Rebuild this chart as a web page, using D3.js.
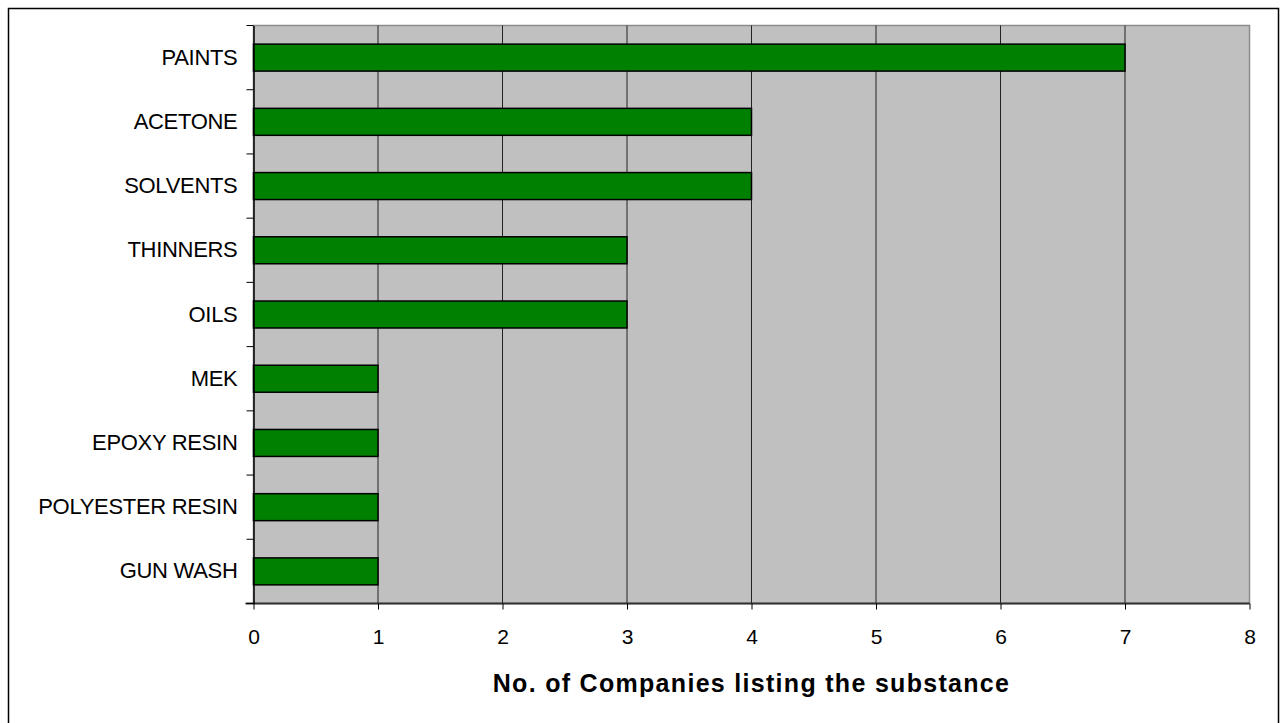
<!DOCTYPE html>
<html>
<head>
<meta charset="utf-8">
<script src="https://cdn.jsdelivr.net/npm/d3@7"></script>
<style>
  html, body { margin: 0; padding: 0; background: #fff; }
  svg { display: block; }
  text { font-family: "Liberation Sans", Arial, sans-serif; fill: #000; }
</style>
</head>
<body>
<svg id="chart" width="1283" height="723"></svg>
<script>
const categories = ["PAINTS", "ACETONE", "SOLVENTS", "THINNERS", "OILS", "MEK", "EPOXY RESIN", "POLYESTER RESIN", "GUN WASH"];
const values = [7, 4, 4, 3, 3, 1, 1, 1, 1];
const xTicks = [0, 1, 2, 3, 4, 5, 6, 7, 8];
const xTitle = "No. of Companies listing the substance";

const svg = d3.select("#chart");
const plot = { left: 253.5, top: 25.5, right: 1249.5, bottom: 603.5 };

// outer frame
svg.append("rect")
  .attr("x", 8.5).attr("y", 8.5)
  .attr("width", 1270).attr("height", 740)
  .attr("fill", "#fff").attr("stroke", "#000").attr("stroke-width", 1.5);

const x = d3.scaleLinear().domain([0, 8]).range([plot.left, plot.right]);
const y = d3.scaleBand().domain(categories).range([plot.top, plot.bottom]).paddingInner(0.58).paddingOuter(0.29);

// plot background
svg.append("rect")
  .attr("x", plot.left).attr("y", plot.top)
  .attr("width", plot.right - plot.left).attr("height", plot.bottom - plot.top)
  .attr("fill", "#C0C0C0").attr("stroke", "#8c8c8c").attr("stroke-width", 1.5);

// gridlines
svg.append("g").selectAll("line")
  .data(xTicks.filter(d => d > 0 && d < 8))
  .join("line")
  .attr("x1", d => x(d)).attr("x2", d => x(d))
  .attr("y1", plot.top).attr("y2", plot.bottom)
  .attr("stroke", "#222").attr("stroke-width", 1);

// bars
svg.append("g").selectAll("rect")
  .data(categories)
  .join("rect")
  .attr("x", x(0))
  .attr("y", d => y(d))
  .attr("width", (d, i) => x(values[i]) - x(0))
  .attr("height", y.bandwidth())
  .attr("fill", "#008000")
  .attr("stroke", "#000").attr("stroke-width", 1.5);

// x axis
const xAxis = svg.append("g")
  .attr("transform", `translate(0,${plot.bottom})`)
  .call(d3.axisBottom(x).tickValues(xTicks).tickSize(6).tickPadding(20).tickFormat(d3.format("d")));
xAxis.select(".domain").attr("stroke", "#333").attr("stroke-width", 2).attr("d", `M${plot.left - 8},0H${plot.right}`);
xAxis.selectAll(".tick line").attr("stroke", "#000");
xAxis.selectAll(".tick text")
  .attr("font-family", "Liberation Sans, Arial, sans-serif")
  .attr("font-size", 21).attr("fill", "#000");

// y axis
const yAxis = svg.append("g")
  .attr("transform", `translate(${plot.left},0)`)
  .call(d3.axisLeft(y).tickSize(0).tickPadding(16));
yAxis.select(".domain").attr("stroke", "#000").attr("stroke-width", 1.5);
yAxis.selectAll(".tick text")
  .attr("font-family", "Liberation Sans, Arial, sans-serif")
  .attr("font-size", 22).attr("fill", "#000")
  .attr("letter-spacing", "-0.3");
// category boundary ticks
const bounds = categories.map(c => y(c) - y.step() * y.paddingInner() / 2).concat([plot.bottom]);
svg.append("g").selectAll("line")
  .data(bounds)
  .join("line")
  .attr("x1", plot.left - 7).attr("x2", plot.left)
  .attr("y1", d => d).attr("y2", d => d)
  .attr("stroke", "#000").attr("stroke-width", 1);

// x title
svg.append("text")
  .attr("x", (plot.left + plot.right) / 2)
  .attr("y", 692)
  .attr("text-anchor", "middle")
  .attr("font-size", 25).attr("font-weight", "bold")
  .attr("letter-spacing", "1.3")
  .text(xTitle);
</script>
</body>
</html>
